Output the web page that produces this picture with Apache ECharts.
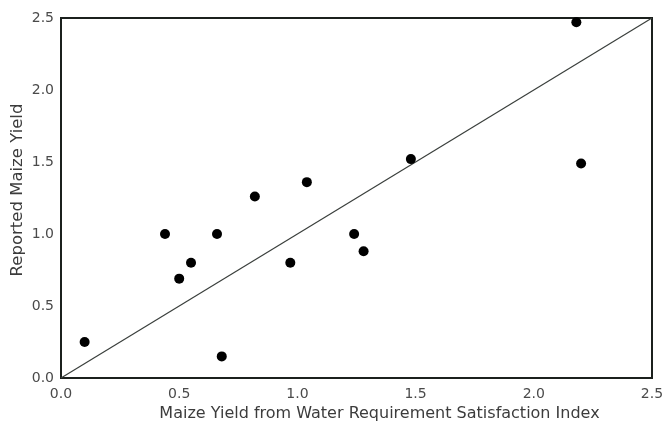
<!DOCTYPE html>
<html>
<head>
<meta charset="utf-8">
<script src="https://cdn.jsdelivr.net/npm/echarts@6/dist/echarts.min.js"></script>
<style>html,body{margin:0;padding:0;background:#fff}#c{width:665px;height:421px}</style>
</head>
<body>
<div id="c"></div>
<script>
var wrsiYield = [0.10, 0.44, 0.50, 0.55, 0.66, 0.68, 0.82, 0.97, 1.04, 1.24, 1.28, 1.48, 2.18, 2.20];
var reportedYield = [0.25, 1.00, 0.69, 0.80, 1.00, 0.15, 1.26, 0.80, 1.36, 1.00, 0.88, 1.52, 2.47, 1.49];
var oneToOneX = [0, 2.5];
var oneToOneY = [0, 2.5];
var tickValues = [0, 0.5, 1.0, 1.5, 2.0, 2.5];

var points = wrsiYield.map(function (x, i) { return [x, reportedYield[i]]; });
var line = oneToOneX.map(function (x, i) { return [x, oneToOneY[i]]; });

var font = 'DejaVu Sans';
var chart = echarts.init(document.getElementById('c'));
chart.setOption({
  animation: false,
  backgroundColor: '#fff',
  grid: { left: 61, right: 13, top: 18, bottom: 43, containLabel: false, outerBoundsMode: 'none',
    show: true, borderColor: '#1b201d', borderWidth: 2, backgroundColor: 'transparent' },
  xAxis: {
    type: 'value', min: 0, max: 2.5, interval: 0.5,
    name: 'Maize Yield from Water Requirement Satisfaction Index',
    nameLocation: 'middle', nameGap: 28, nameMoveOverlap: false,
    nameTextStyle: { fontFamily: font, fontSize: 16, color: '#3c3c3c', padding: [0, 0, 0, 46] },
    axisLine: { show: true, lineStyle: { color: '#1b201d', width: 2 } },
    axisTick: { show: false },
    splitLine: { show: false },
    axisLabel: { fontFamily: font, fontSize: 14, color: '#4a4a4a', margin: 9,
      formatter: function (v) { return v.toFixed(1); } }
  },
  yAxis: {
    type: 'value', min: 0, max: 2.5, interval: 0.5,
    name: 'Reported Maize Yield',
    nameLocation: 'middle', nameGap: 35, nameMoveOverlap: false,
    nameTextStyle: { fontFamily: font, fontSize: 16.5, color: '#3c3c3c', padding: [0, 0, 0, 16] },
    axisLine: { show: true, lineStyle: { color: '#1b201d', width: 2 } },
    axisTick: { show: false },
    splitLine: { show: false },
    axisLabel: { fontFamily: font, fontSize: 14, color: '#4a4a4a', margin: 7,
      formatter: function (v) { return v.toFixed(1); } }
  },
  series: [
    { type: 'line', data: line, symbol: 'none', lineStyle: { color: '#3a3f3c', width: 1.2 }, silent: true, z: 1 },
    { type: 'scatter', data: points, symbol: 'circle', symbolSize: 10, itemStyle: { color: '#000', opacity: 1 }, z: 2 }
  ]
});
</script>
</body>
</html>
